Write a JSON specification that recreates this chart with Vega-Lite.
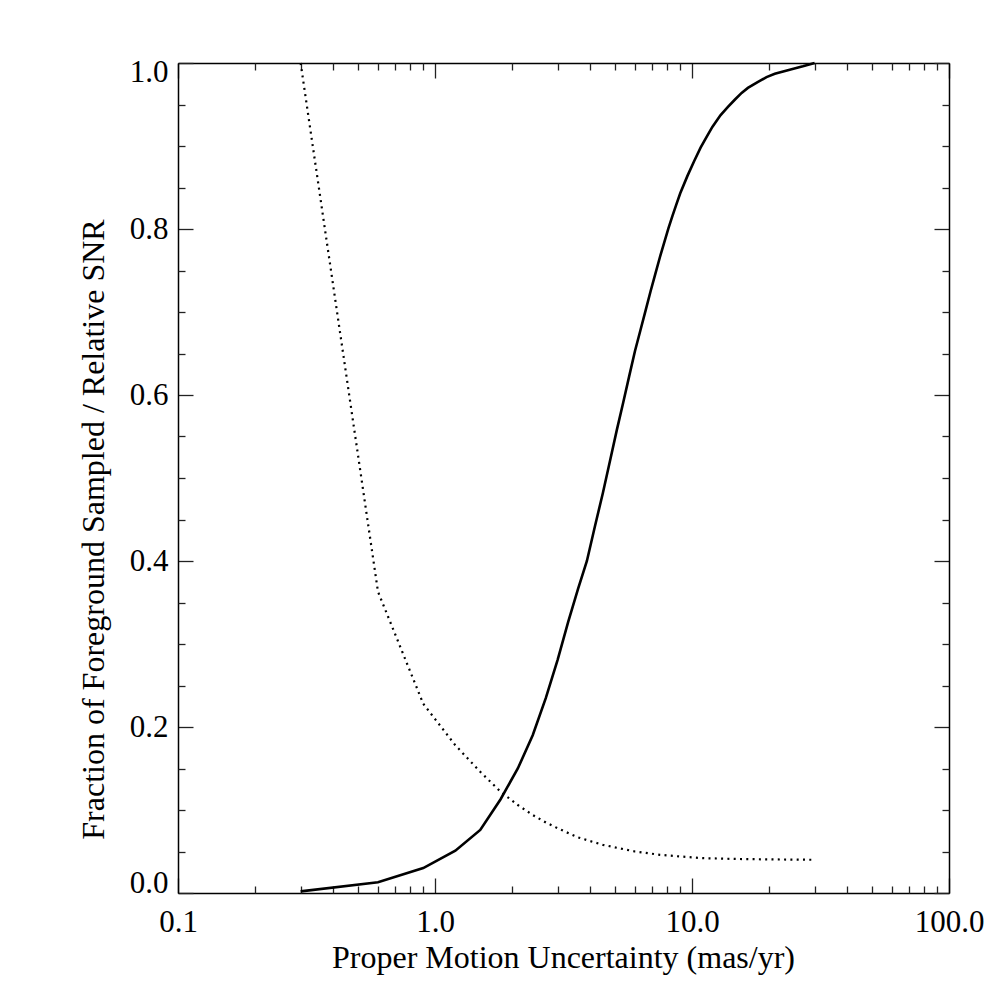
{
  "$schema": "https://vega.github.io/schema/vega-lite/v6.json",
  "width": 771,
  "height": 830,
  "autosize": {"type": "none"},
  "padding": {"left": 178, "top": 63, "right": 41, "bottom": 102},
  "background": "white",
  "datasets": {
    "solid": [
      {"x": 0.3, "y": 0.002}, {"x": 0.6, "y": 0.013}, {"x": 0.9, "y": 0.030}, {"x": 1.2, "y": 0.051},
      {"x": 1.5, "y": 0.076}, {"x": 1.8, "y": 0.113}, {"x": 2.1, "y": 0.150}, {"x": 2.4, "y": 0.190},
      {"x": 2.7, "y": 0.235}, {"x": 3.0, "y": 0.281}, {"x": 3.3, "y": 0.327}, {"x": 3.6, "y": 0.366},
      {"x": 3.9, "y": 0.400}, {"x": 4.2, "y": 0.443}, {"x": 4.5, "y": 0.482}, {"x": 4.8, "y": 0.521},
      {"x": 5.1, "y": 0.558}, {"x": 5.4, "y": 0.591}, {"x": 5.7, "y": 0.623}, {"x": 6.0, "y": 0.653},
      {"x": 6.3, "y": 0.678}, {"x": 6.6, "y": 0.702}, {"x": 6.9, "y": 0.725}, {"x": 7.2, "y": 0.746},
      {"x": 7.5, "y": 0.766}, {"x": 7.8, "y": 0.784}, {"x": 8.1, "y": 0.801}, {"x": 8.4, "y": 0.816},
      {"x": 8.7, "y": 0.830}, {"x": 9.0, "y": 0.843}, {"x": 9.6, "y": 0.864}, {"x": 10.2, "y": 0.882},
      {"x": 10.8, "y": 0.898}, {"x": 11.4, "y": 0.911}, {"x": 12.0, "y": 0.923}, {"x": 12.9, "y": 0.937},
      {"x": 13.8, "y": 0.947}, {"x": 14.7, "y": 0.956}, {"x": 15.6, "y": 0.964}, {"x": 16.5, "y": 0.970},
      {"x": 18.0, "y": 0.977}, {"x": 19.5, "y": 0.983}, {"x": 21.0, "y": 0.987}, {"x": 24.0, "y": 0.992},
      {"x": 27.0, "y": 0.996}, {"x": 30.0, "y": 1.0}
    ],
    "snr": [
      {"x": 0.3, "y": 1.0}, {"x": 0.6, "y": 0.363}, {"x": 0.9, "y": 0.228}, {"x": 1.2, "y": 0.178},
      {"x": 1.5, "y": 0.146}, {"x": 1.8, "y": 0.122}, {"x": 2.1, "y": 0.106}, {"x": 2.4, "y": 0.094},
      {"x": 2.7, "y": 0.085}, {"x": 3.0, "y": 0.078}, {"x": 3.6, "y": 0.067}, {"x": 4.5, "y": 0.058},
      {"x": 6.0, "y": 0.050}, {"x": 7.5, "y": 0.046}, {"x": 9.0, "y": 0.044}, {"x": 11.0, "y": 0.042},
      {"x": 15.0, "y": 0.041}, {"x": 20.0, "y": 0.0405}, {"x": 30.0, "y": 0.040}
    ]
  },
  "layer": [
    {
      "data": {"name": "solid"},
      "mark": {"type": "line", "color": "black", "strokeWidth": 2.6},
      "encoding": {
        "x": {"field": "x", "type": "quantitative",
          "scale": {"type": "log", "domain": [0.1, 100], "nice": false},
          "axis": {"orient": "bottom", "values": [0.1, 1, 10, 100], "labelExpr": "format(datum.value, '.1f')",
            "tickSize": -15, "labelPadding": 29, "labelFlush": false, "labelOverlap": false, "labelBound": false,
            "domain": true,
            "title": "Proper Motion Uncertainty (mas/yr)", "titleX": 385, "titleY": 74,
            "titleBaseline": "alphabetic", "titleAlign": "center", "titleAngle": 0}},
        "y": {"field": "y", "type": "quantitative",
          "scale": {"domain": [0, 1], "nice": false},
          "axis": {"orient": "left", "values": [0, 0.2, 0.4, 0.6, 0.8, 1.0], "format": ".1f",
            "tickSize": -15, "labelPadding": 25, "labelFlush": true, "labelFlushOffset": 6, "labelOverlap": false,
            "domain": true,
            "title": "Fraction of Foreground Sampled / Relative SNR", "titleX": -75, "titleY": 466,
            "titleAngle": -90, "titleBaseline": "alphabetic", "titleAlign": "center"}}
      }
    },
    {
      "data": {"name": "snr"},
      "mark": {"type": "line", "color": "black", "strokeWidth": 2.2, "strokeDash": [2, 4.3], "strokeCap": "butt"},
      "encoding": {
        "x": {"field": "x", "type": "quantitative",
          "axis": {"orient": "bottom", "values": [0.2, 0.3, 0.4, 0.5, 0.6, 0.7, 0.8, 0.9, 2, 3, 4, 5, 6, 7, 8, 9, 20, 30, 40, 50, 60, 70, 80, 90],
            "tickSize": -7, "labels": false, "domain": false, "title": null}},
        "y": {"field": "y", "type": "quantitative",
          "axis": {"orient": "left", "values": [0.05, 0.1, 0.15, 0.25, 0.3, 0.35, 0.45, 0.5, 0.55, 0.65, 0.7, 0.75, 0.85, 0.9, 0.95],
            "tickSize": -7, "labels": false, "domain": false, "title": null}}
      }
    },
    {
      "data": {"name": "solid"},
      "mark": {"type": "line", "color": "black", "opacity": 0},
      "encoding": {
        "x": {"field": "x", "type": "quantitative",
          "axis": {"orient": "top", "values": [0.1, 1, 10, 100], "tickSize": -15, "labels": false, "domain": true, "title": null}},
        "y": {"field": "y", "type": "quantitative",
          "axis": {"orient": "right", "values": [0, 0.2, 0.4, 0.6, 0.8, 1.0], "tickSize": -15, "labels": false, "domain": true, "title": null}}
      }
    },
    {
      "data": {"name": "snr"},
      "mark": {"type": "line", "color": "black", "opacity": 0},
      "encoding": {
        "x": {"field": "x", "type": "quantitative",
          "axis": {"orient": "top", "values": [0.2, 0.3, 0.4, 0.5, 0.6, 0.7, 0.8, 0.9, 2, 3, 4, 5, 6, 7, 8, 9, 20, 30, 40, 50, 60, 70, 80, 90],
            "tickSize": -7, "labels": false, "domain": false, "title": null}},
        "y": {"field": "y", "type": "quantitative",
          "axis": {"orient": "right", "values": [0.05, 0.1, 0.15, 0.25, 0.3, 0.35, 0.45, 0.5, 0.55, 0.65, 0.7, 0.75, 0.85, 0.9, 0.95],
            "tickSize": -7, "labels": false, "domain": false, "title": null}}
      }
    }
  ],
  "resolve": {"axis": {"x": "independent", "y": "independent"}},
  "config": {
    "view": {"stroke": null},
    "axis": {
      "grid": false,
      "domainColor": "black", "domainWidth": 1.5,
      "tickColor": "#222222", "tickWidth": 1.3,
      "labelFont": "'Liberation Serif', 'Times New Roman', Times, 'DejaVu Serif', serif", "labelFontSize": 31, "labelColor": "black",
      "titleFont": "'Liberation Serif', 'Times New Roman', Times, 'DejaVu Serif', serif", "titleFontSize": 32, "titleFontWeight": "normal", "titleColor": "black"
    }
  }
}
